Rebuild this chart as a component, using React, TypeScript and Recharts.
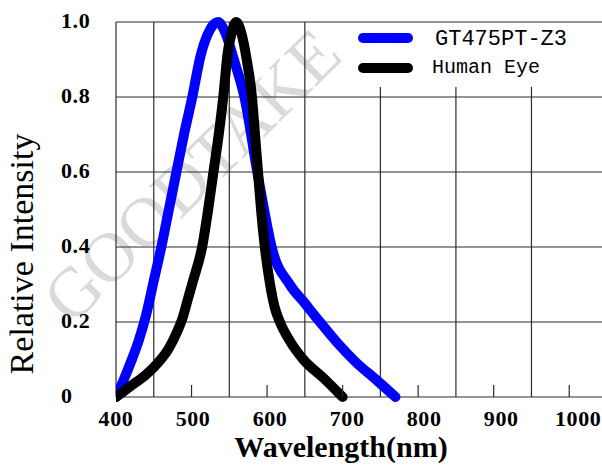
import React from "react";
import { LineChart, Line, XAxis, YAxis, ReferenceLine } from "recharts";

// GT475PT-Z3 spectral response
const blueWavelengths = [400, 410, 420, 430, 440, 450, 460, 470, 480, 490, 501, 512, 522, 535, 545, 556, 570, 587, 596, 606, 630, 650, 670, 695, 719, 745, 770];
const blueValues = [0, 0.045, 0.095, 0.15, 0.22, 0.31, 0.4, 0.5, 0.6, 0.7, 0.8, 0.91, 0.97, 1.0, 0.97, 0.9, 0.8, 0.6, 0.5, 0.4, 0.3, 0.25, 0.2, 0.14, 0.09, 0.045, 0];

// Human eye photopic curve
const eyeWavelengths = [400, 420, 440, 455, 470, 480, 488, 495, 502, 514, 522, 529, 536, 542, 548, 553, 559, 566, 573, 580, 584, 588, 592, 597, 604, 610, 617, 630, 648, 675, 700];
const eyeValues = [0, 0.03, 0.06, 0.09, 0.13, 0.17, 0.21, 0.26, 0.31, 0.4, 0.5, 0.6, 0.7, 0.8, 0.92, 0.97, 1.0, 0.97, 0.9, 0.8, 0.7, 0.6, 0.5, 0.4, 0.3, 0.24, 0.2, 0.15, 0.1, 0.05, 0];

const xTicks = [400, 500, 600, 700, 800, 900, 1000];
const yTicks = [0, 0.2, 0.4, 0.6, 0.8, 1.0];
const yTickLabels = ["0", "0.2", "0.4", "0.6", "0.8", "1.0"];
const gridFull = [400, 450, 550, 650];
const gridUnderLegend = [750, 850, 950, 1050];
const legendBottom = 0.827;

const blueData = blueWavelengths.map((w, i) => ({ w, v: blueValues[i] }));
const eyeData = eyeWavelengths.map((w, i) => ({ w, v: eyeValues[i] }));

const W = 612;
const H = 468;
const TOP = 22;
const BOTTOM = 397;
const serif = "'Liberation Serif', 'Times New Roman', serif";
const grid = "#2b2b2b";

function XTick(props: any) {
  const { x, payload } = props;
  const v = payload.value;
  return (
    <g>
      {v !== 400 && <line x1={x} x2={x} y1={BOTTOM} y2={BOTTOM - 12} stroke={grid} strokeWidth={1.2} />}
      <text
        x={x + (v - 400) * 0.015}
        y={418}
        textAnchor="middle"
        dominantBaseline="central"
        fontFamily={serif}
        fontWeight="bold"
        fontSize={22}
        letterSpacing={0.6}
        fill="#000"
      >
        {v}
      </text>
    </g>
  );
}

function YTick(props: any) {
  const { y, payload } = props;
  const i = yTicks.indexOf(payload.value);
  return (
    <text
      x={61}
      y={y - 2}
      textAnchor="start"
      dominantBaseline="central"
      fontFamily={serif}
      fontWeight="bold"
      fontSize={22}
      letterSpacing={0.6}
      fill="#000"
    >
      {yTickLabels[i]}
    </text>
  );
}

export default function App() {
  return (
    <div style={{ position: "absolute", left: 0, top: 0, width: 602, height: H, overflow: "hidden", background: "#fff" }}>
      <svg width={602} height={H} style={{ position: "absolute", left: 0, top: 0 }}>
        <text
          x={192}
          y={176}
          dy="0.33em"
          textAnchor="middle"
          fontFamily={serif}
          fontSize={70}
          fill="#dadada"
          transform="rotate(-44.5 192 176)"
        >
          GOODTAKE
        </text>
      </svg>
      <div style={{ position: "absolute", left: 0, top: 0 }}>
        <LineChart width={W} height={H} margin={{ top: TOP, right: 5, bottom: 31, left: 0 }}>
          <XAxis
            dataKey="w"
            type="number"
            domain={[400, 1050]}
            ticks={xTicks}
            tick={<XTick />}
            axisLine={false}
            tickLine={false}
            height={40}
            allowDataOverflow
          />
          <YAxis
            type="number"
            domain={[0, 1]}
            ticks={yTicks}
            tick={<YTick />}
            axisLine={false}
            tickLine={false}
            width={116}
          />
          {yTicks.map((t) => (
            <ReferenceLine key={"h" + t} y={t} stroke={grid} strokeWidth={1.2} />
          ))}
          {gridFull.map((g) => (
            <ReferenceLine key={"v" + g} x={g} stroke={grid} strokeWidth={1.2} />
          ))}
          {gridUnderLegend.map((g) => (
            <ReferenceLine
              key={"p" + g}
              segment={[
                { x: g, y: 0 },
                { x: g, y: legendBottom },
              ]}
              stroke={grid}
              strokeWidth={1.2}
              ifOverflow="visible"
            />
          ))}
          <Line
            data={blueData}
            dataKey="v"
            type="monotone"
            stroke="#0000ff"
            strokeWidth={10}
            strokeLinecap="round"
            strokeLinejoin="round"
            dot={false}
            isAnimationActive={false}
          />
          <Line
            data={eyeData}
            dataKey="v"
            type="monotone"
            stroke="#000000"
            strokeWidth={10}
            strokeLinecap="round"
            strokeLinejoin="round"
            dot={false}
            isAnimationActive={false}
          />
          <text
            x={341}
            y={457}
            textAnchor="middle"
            fontFamily={serif}
            fontWeight="bold"
            fontSize={30}
            fill="#000"
          >
            Wavelength(nm)
          </text>
          <text
            x={33}
            y={254}
            textAnchor="middle"
            fontFamily={serif}
            fontSize={34}
            fill="#000"
            transform="rotate(-90 33 254)"
          >
            Relative Intensity
          </text>
        </LineChart>
      </div>
      <div
        style={{
          position: "absolute",
          left: 350,
          top: 24,
          width: 252,
          height: 62,
          background: "#fff",
          fontFamily: "'Liberation Mono', monospace",
          color: "#000",
        }}
      >
        <div style={{ position: "absolute", left: 8, top: 9, width: 55, height: 10, borderRadius: 5, background: "#0000ff" }} />
        <div style={{ position: "absolute", left: 85, top: 4, fontSize: 22, lineHeight: "24px", whiteSpace: "nowrap" }}>GT475PT-Z3</div>
        <div style={{ position: "absolute", left: 8, top: 39, width: 55, height: 10, borderRadius: 5, background: "#000" }} />
        <div style={{ position: "absolute", left: 82, top: 33, fontSize: 20, lineHeight: "22px", whiteSpace: "nowrap" }}>Human Eye</div>
      </div>
    </div>
  );
}
